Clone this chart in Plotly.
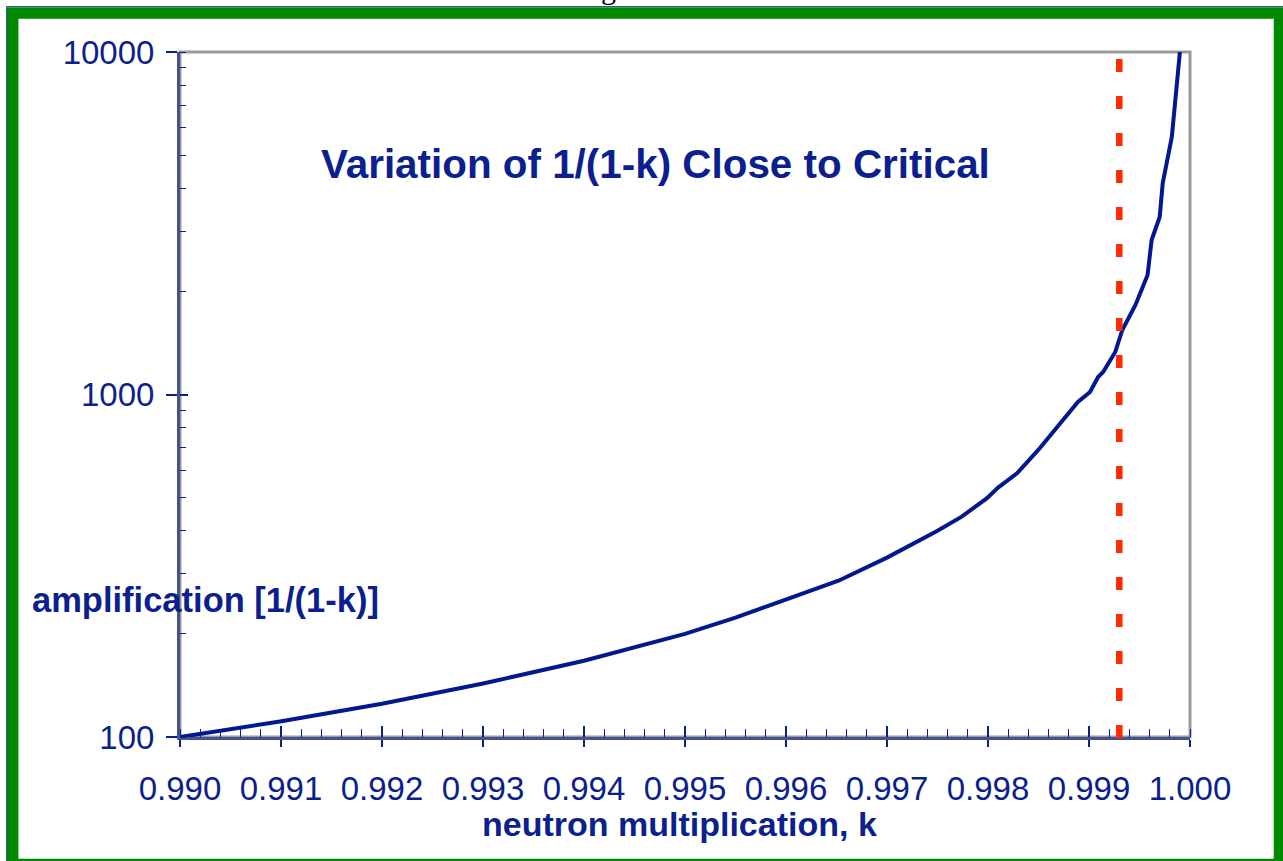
import plotly.graph_objects as go

# ---- data ----
k_values = [0.99000, 0.99099, 0.99200, 0.99299, 0.99400, 0.99500, 0.99550, 0.99652,
            0.99700, 0.99750, 0.99774, 0.99799, 0.99810, 0.99829, 0.99850, 0.99879,
            0.99889, 0.99901, 0.99909, 0.99914, 0.99926, 0.99933, 0.99946, 0.99958,
            0.99962, 0.99970, 0.99973, 0.99982, 0.99990]
amplification = [100, 111, 125, 143, 167, 200, 223, 286,
                 334, 400, 440, 498, 535, 590, 690, 871,
                 951, 1017, 1125, 1163, 1331, 1543, 1825, 2233,
                 2826, 3298, 4145, 5647, 10000]
critical_marker_k = 0.9993
x_ticks = [0.990, 0.991, 0.992, 0.993, 0.994, 0.995, 0.996, 0.997, 0.998, 0.999, 1.000]
x_tick_labels = ["0.990", "0.991", "0.992", "0.993", "0.994", "0.995", "0.996",
                 "0.997", "0.998", "0.999", "1.000"]
y_ticks = [100, 1000, 10000]
y_tick_labels = ["100", "1000", "10000"]

title_text = "Variation of 1/(1-k) Close to Critical"
y_label = "amplification [1/(1-k)]"
x_label = "neutron multiplication, k"

NAVY = "#0b1f8e"
CURVE = "#001890"
RED = "#ff2a00"
FONT = "Liberation Sans, Arial, sans-serif"

W, H = 1283, 861
L, R, T, B = 180, 93, 52, 124
PW, PH = W - L - R, H - T - B


def px(x):
    return (x - L) / PW


def py(y):
    return (H - B - y) / PH


fig = go.Figure()
fig.add_trace(go.Scatter(x=k_values, y=amplification, mode="lines",
                         line=dict(color=CURVE, width=4), showlegend=False,
                         hoverinfo="skip"))
# invisible trace for overlay axes (inside halves of crossing major ticks)
fig.add_trace(go.Scatter(x=[x_ticks[0]], y=[y_ticks[0]], xaxis="x2", yaxis="y2",
                         mode="markers", marker=dict(opacity=0), showlegend=False,
                         hoverinfo="skip"))

fig.update_layout(
    width=W, height=H, autosize=False,
    margin=dict(l=L, r=R, t=T, b=B),
    paper_bgcolor="white", plot_bgcolor="white",
    font=dict(family=FONT, color=NAVY),
    xaxis=dict(range=[0.990, 1.000], tickvals=x_ticks, ticktext=x_tick_labels,
               tickfont=dict(size=33, color=NAVY, family=FONT),
               ticks="outside", ticklen=7, tickwidth=1.5, tickcolor=NAVY,
               ticklabelstandoff=13,
               minor=dict(dtick=0.0002, tick0=0.990, ticks="inside", ticklen=8,
                          tickwidth=1, tickcolor=NAVY, showgrid=False),
               showgrid=False, zeroline=False, showline=True, linecolor="#44528f",
               linewidth=3),
    yaxis=dict(type="log", range=[2, 4], tickvals=y_ticks, ticktext=y_tick_labels,
               tickfont=dict(size=33, color=NAVY, family=FONT),
               ticks="outside", ticklen=11, tickwidth=1.5, tickcolor=NAVY,
               ticklabelstandoff=5,
               minor=dict(dtick="D1", ticks="inside", ticklen=6, tickwidth=1,
                          tickcolor=NAVY, showgrid=False),
               showgrid=False, zeroline=False, showline=True, linecolor="#44528f",
               linewidth=3),
    xaxis2=dict(overlaying="x", range=[0.990, 1.000], tickvals=x_ticks,
                showticklabels=False, ticks="inside", ticklen=11, tickwidth=1.5,
                tickcolor=NAVY, showgrid=False, zeroline=False, showline=False,
                side="bottom", anchor="y2"),
    yaxis2=dict(overlaying="y", type="log", range=[2, 4], tickvals=y_ticks,
                showticklabels=False, ticks="inside", ticklen=8, tickwidth=1.5,
                tickcolor=NAVY, showgrid=False, zeroline=False, showline=False,
                side="left", anchor="x2"),
)

shapes = []
# gray plot frame
shapes.append(dict(type="rect", xref="paper", yref="paper", x0=0, x1=1, y0=0, y1=1,
                   line=dict(color="#9a9a9a", width=3), layer="below"))
# red dashed critical marker
shapes.append(dict(type="line", xref="x", yref="paper", x0=critical_marker_k,
                   x1=critical_marker_k, y0=py(59), y1=py(739),
                   line=dict(color=RED, width=6.5, dash="13px,24px"), layer="above"))
# thin blue outer line
shapes.append(dict(type="rect", xref="paper", yref="paper", x0=px(6.5), x1=px(1300),
                   y0=py(880), y1=py(6.5), line=dict(color="#3050b0", width=1),
                   layer="above"))
# green frame
shapes.append(dict(type="rect", xref="paper", yref="paper", x0=px(12.7), x1=px(1279.5),
                   y0=py(864.5), y1=py(13), line=dict(color="#008a00", width=11.5),
                   layer="above"))
fig.update_layout(shapes=shapes)

annotations = [
    dict(text="<b>%s</b>" % title_text, x=px(655), y=py(164), xref="paper", yref="paper",
         showarrow=False, xanchor="center", yanchor="middle",
         font=dict(size=40.4, color=NAVY, family=FONT)),
    dict(text="<b>%s</b>" % y_label, x=px(30), y=py(600), xref="paper", yref="paper",
         showarrow=False, xanchor="left", yanchor="middle",
         font=dict(size=34.5, color=NAVY, family=FONT)),
    dict(text="<b>%s</b>" % x_label, x=px(679), y=py(824), xref="paper", yref="paper",
         showarrow=False, xanchor="center", yanchor="middle",
         font=dict(size=34, color=NAVY, family=FONT)),
    dict(text="g", x=px(608), y=py(7), xref="paper", yref="paper",
         showarrow=False, xanchor="center", yanchor="bottom",
         font=dict(size=30, color="black", family="Liberation Serif, serif")),
]
fig.update_layout(annotations=annotations)

fig.write_html("out.html",
               config={"displayModeBar": False},
               post_script="document.body.style.margin='0';"
                           "document.body.style.overflow='hidden';")
